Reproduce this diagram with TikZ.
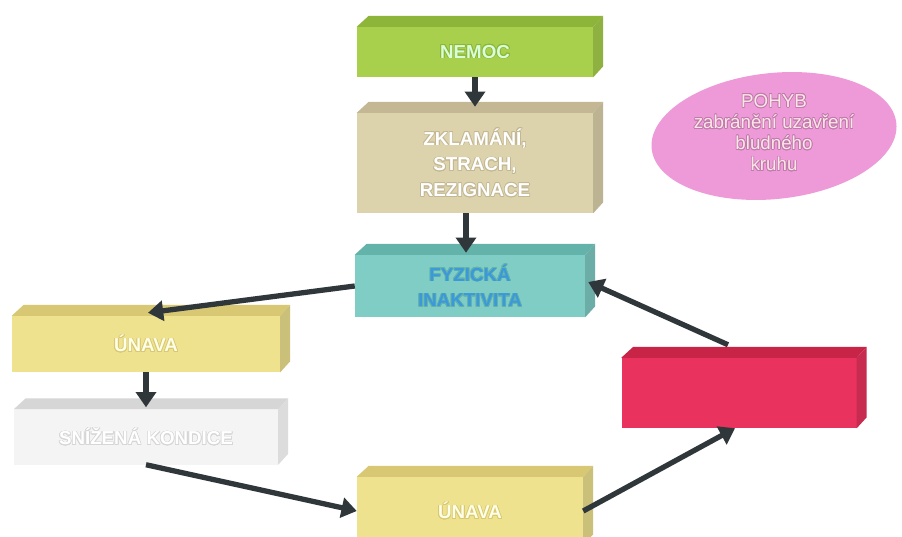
\documentclass[tikz,border=0pt]{standalone}
\usepackage{fontspec}
\setmainfont{Liberation Sans}
\usepackage{contour}
\contourlength{0.6pt}
\contournumber{16}
\usetikzlibrary{arrows.meta,shapes.geometric,calc}
\definecolor{cGreen}{HTML}{A8D04C}
\definecolor{cGreenTop}{HTML}{8DB53A}
\definecolor{cBeige}{HTML}{DCD3AC}
\definecolor{cBeigeTop}{HTML}{C4B894}
\definecolor{cTeal}{HTML}{7FCDC4}
\definecolor{cTealTop}{HTML}{63B3AA}
\definecolor{cYel}{HTML}{EEE28E}
\definecolor{cYelTop}{HTML}{D8C874}
\definecolor{cWhiteBox}{HTML}{F4F4F4}
\definecolor{cWhiteTop}{HTML}{D6D6D6}
\definecolor{cRed}{HTML}{EA325E}
\definecolor{cRedTop}{HTML}{C82448}
\definecolor{cPink}{HTML}{EE9AD8}
\definecolor{cArrow}{HTML}{30373A}
\newcommand\boxfaces[3]{%
  \fill[#2] (#1.north west) -- ++(12,-11) -- ($(#1.north east)+(10,-11)$) -- (#1.north east) -- cycle;
  \fill[#3] (#1.north east) -- ++(10,-11) -- ($(#1.south east)+(10,-11)$) -- (#1.south east) -- cycle;}
\tikzset{
  block/.style={fill=#1, inner sep=0pt, align=center,
    font=\bfseries\fontsize{16}{22}\selectfont},
  flowarrow/.style={draw=cArrow, line width=4.5pt,
    -{Triangle[width=17pt,length=13pt]}},
}
\begin{document}
\begin{tikzpicture}[x=0.03cm,y=-0.03cm]
\clip (0,0) rectangle (902,537);
\fill[white] (0,0) rectangle (902,537);
% pink ellipse (slightly tilted) with its text
\fill[cPink, rotate around={6:(774,136)}] (774,136) ellipse [x radius=123, y radius=63];
\node[inner sep=0pt, align=center, text=pink!40!white,
  font=\fontsize{16}{18}\selectfont] (pohyb) at (774,133) {\contour{cPink!80!black}{POHYB}\\\contour{cPink!80!black}{zabránění uzavření}\\\contour{cPink!80!black}{bludného}\\\contour{cPink!80!black}{kruhu}};
% boxes
\node[block=cGreen, minimum width={236*0.03cm}, minimum height={50*0.03cm}, text=green!15!white] (nemoc) at (475,52) {\contour{cGreenTop}{NEMOC}};
\node[block=cBeige, minimum width={236*0.03cm}, minimum height={100*0.03cm}, text=white] (zkl) at (475,163) {\contour{cBeigeTop}{ZKLAMÁNÍ,}\\\contour{cBeigeTop}{STRACH,}\\\contour{cBeigeTop}{REZIGNACE}};
\node[block=cTeal, minimum width={230*0.03cm}, minimum height={62*0.03cm}, text=cyan!70!blue!80!white] (fyz) at (470,286) {\contour{cTealTop}{FYZICKÁ}\\\contour{cTealTop}{INAKTIVITA}};
\node[block=cYel, minimum width={268*0.03cm}, minimum height={56*0.03cm}, text=yellow!10!white] (unava1) at (146,344) {\contour{cYelTop}{ÚNAVA}};
\node[block=cWhiteBox, minimum width={264*0.03cm}, minimum height={55*0.03cm}, text=white] (kond) at (146,437) {\contour{cWhiteTop}{SNÍŽENÁ KONDICE}};
\node[block=cYel, minimum width={226*0.03cm}, minimum height={68*0.03cm}, text=yellow!10!white] (unava2) at (470,511) {\contour{cYelTop}{ÚNAVA}};
\node[block=cRed, minimum width={235*0.03cm}, minimum height={70*0.03cm}] (red) at (739,393) {};
% 3D faces
\boxfaces{nemoc}{cGreenTop}{cGreen!85!black}
\boxfaces{zkl}{cBeigeTop}{cBeige!85!black}
\boxfaces{fyz}{cTealTop}{cTeal!85!black}
\boxfaces{unava1}{cYelTop}{cYel!85!black}
\boxfaces{kond}{cWhiteTop}{cWhiteBox!90!black}
\boxfaces{unava2}{cYelTop}{cYel!85!black}
\boxfaces{red}{cRedTop}{cRed!85!black}
% arrows
\draw[flowarrow] (nemoc.south) -- ($(zkl.north)+(0,-6)$);
\draw[flowarrow] ($(zkl.south)+(-9,0)$) -- ($(fyz.north)+(-4,-2)$);
\draw[flowarrow] (fyz.west) -- ($(unava1.north)+(2,-3)$);
\draw[flowarrow] (unava1.south) -- ($(kond.north)+(0,-2)$);
\draw[flowarrow] (kond.south) -- (unava2.west);
\draw[flowarrow] (unava2.east) -- ($(red.south)+(-4,0)$);
\draw[flowarrow] ($(red.north)+(-11,-13)$) -- ($(fyz.east)+(3,-4)$);
\end{tikzpicture}
\end{document}
